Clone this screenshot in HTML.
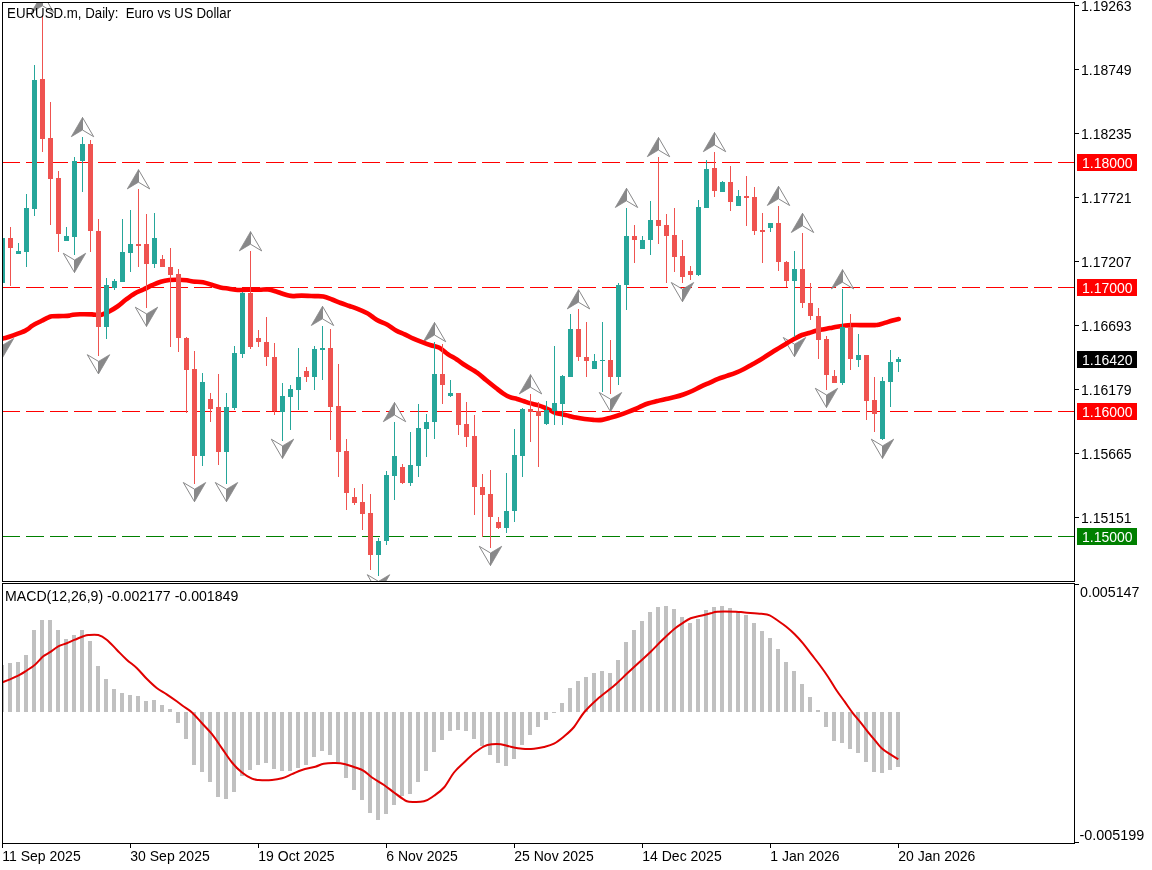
<!DOCTYPE html><html><head><meta charset="utf-8"><title>EURUSD.m Daily</title><style>html,body{margin:0;padding:0;background:#fff;}svg{display:block;}text{font-family:'Liberation Sans', Arial, sans-serif;font-size:14px;fill:#000;}</style></head><body><svg width="1152" height="870" viewBox="0 0 1152 870"><rect x="0" y="0" width="1152" height="870" fill="#fff"/><defs><clipPath id="cm"><rect x="3" y="3" width="1071" height="578"/></clipPath><clipPath id="cd"><rect x="3" y="584" width="1071" height="259"/></clipPath></defs><g clip-path="url(#cm)" shape-rendering="crispEdges"><rect x="2" y="162" width="18" height="1" fill="#ff0000"/><rect x="26" y="162" width="18" height="1" fill="#ff0000"/><rect x="50" y="162" width="18" height="1" fill="#ff0000"/><rect x="74" y="162" width="18" height="1" fill="#ff0000"/><rect x="98" y="162" width="18" height="1" fill="#ff0000"/><rect x="122" y="162" width="18" height="1" fill="#ff0000"/><rect x="146" y="162" width="18" height="1" fill="#ff0000"/><rect x="170" y="162" width="18" height="1" fill="#ff0000"/><rect x="194" y="162" width="18" height="1" fill="#ff0000"/><rect x="218" y="162" width="18" height="1" fill="#ff0000"/><rect x="242" y="162" width="18" height="1" fill="#ff0000"/><rect x="266" y="162" width="18" height="1" fill="#ff0000"/><rect x="290" y="162" width="18" height="1" fill="#ff0000"/><rect x="314" y="162" width="18" height="1" fill="#ff0000"/><rect x="338" y="162" width="18" height="1" fill="#ff0000"/><rect x="362" y="162" width="18" height="1" fill="#ff0000"/><rect x="386" y="162" width="18" height="1" fill="#ff0000"/><rect x="410" y="162" width="18" height="1" fill="#ff0000"/><rect x="434" y="162" width="18" height="1" fill="#ff0000"/><rect x="458" y="162" width="18" height="1" fill="#ff0000"/><rect x="482" y="162" width="18" height="1" fill="#ff0000"/><rect x="506" y="162" width="18" height="1" fill="#ff0000"/><rect x="530" y="162" width="18" height="1" fill="#ff0000"/><rect x="554" y="162" width="18" height="1" fill="#ff0000"/><rect x="578" y="162" width="18" height="1" fill="#ff0000"/><rect x="602" y="162" width="18" height="1" fill="#ff0000"/><rect x="626" y="162" width="18" height="1" fill="#ff0000"/><rect x="650" y="162" width="18" height="1" fill="#ff0000"/><rect x="674" y="162" width="18" height="1" fill="#ff0000"/><rect x="698" y="162" width="18" height="1" fill="#ff0000"/><rect x="722" y="162" width="18" height="1" fill="#ff0000"/><rect x="746" y="162" width="18" height="1" fill="#ff0000"/><rect x="770" y="162" width="18" height="1" fill="#ff0000"/><rect x="794" y="162" width="18" height="1" fill="#ff0000"/><rect x="818" y="162" width="18" height="1" fill="#ff0000"/><rect x="842" y="162" width="18" height="1" fill="#ff0000"/><rect x="866" y="162" width="18" height="1" fill="#ff0000"/><rect x="890" y="162" width="18" height="1" fill="#ff0000"/><rect x="914" y="162" width="18" height="1" fill="#ff0000"/><rect x="938" y="162" width="18" height="1" fill="#ff0000"/><rect x="962" y="162" width="18" height="1" fill="#ff0000"/><rect x="986" y="162" width="18" height="1" fill="#ff0000"/><rect x="1010" y="162" width="18" height="1" fill="#ff0000"/><rect x="1034" y="162" width="18" height="1" fill="#ff0000"/><rect x="1058" y="162" width="16" height="1" fill="#ff0000"/><rect x="2" y="287" width="18" height="1" fill="#ff0000"/><rect x="26" y="287" width="18" height="1" fill="#ff0000"/><rect x="50" y="287" width="18" height="1" fill="#ff0000"/><rect x="74" y="287" width="18" height="1" fill="#ff0000"/><rect x="98" y="287" width="18" height="1" fill="#ff0000"/><rect x="122" y="287" width="18" height="1" fill="#ff0000"/><rect x="146" y="287" width="18" height="1" fill="#ff0000"/><rect x="170" y="287" width="18" height="1" fill="#ff0000"/><rect x="194" y="287" width="18" height="1" fill="#ff0000"/><rect x="218" y="287" width="18" height="1" fill="#ff0000"/><rect x="242" y="287" width="18" height="1" fill="#ff0000"/><rect x="266" y="287" width="18" height="1" fill="#ff0000"/><rect x="290" y="287" width="18" height="1" fill="#ff0000"/><rect x="314" y="287" width="18" height="1" fill="#ff0000"/><rect x="338" y="287" width="18" height="1" fill="#ff0000"/><rect x="362" y="287" width="18" height="1" fill="#ff0000"/><rect x="386" y="287" width="18" height="1" fill="#ff0000"/><rect x="410" y="287" width="18" height="1" fill="#ff0000"/><rect x="434" y="287" width="18" height="1" fill="#ff0000"/><rect x="458" y="287" width="18" height="1" fill="#ff0000"/><rect x="482" y="287" width="18" height="1" fill="#ff0000"/><rect x="506" y="287" width="18" height="1" fill="#ff0000"/><rect x="530" y="287" width="18" height="1" fill="#ff0000"/><rect x="554" y="287" width="18" height="1" fill="#ff0000"/><rect x="578" y="287" width="18" height="1" fill="#ff0000"/><rect x="602" y="287" width="18" height="1" fill="#ff0000"/><rect x="626" y="287" width="18" height="1" fill="#ff0000"/><rect x="650" y="287" width="18" height="1" fill="#ff0000"/><rect x="674" y="287" width="18" height="1" fill="#ff0000"/><rect x="698" y="287" width="18" height="1" fill="#ff0000"/><rect x="722" y="287" width="18" height="1" fill="#ff0000"/><rect x="746" y="287" width="18" height="1" fill="#ff0000"/><rect x="770" y="287" width="18" height="1" fill="#ff0000"/><rect x="794" y="287" width="18" height="1" fill="#ff0000"/><rect x="818" y="287" width="18" height="1" fill="#ff0000"/><rect x="842" y="287" width="18" height="1" fill="#ff0000"/><rect x="866" y="287" width="18" height="1" fill="#ff0000"/><rect x="890" y="287" width="18" height="1" fill="#ff0000"/><rect x="914" y="287" width="18" height="1" fill="#ff0000"/><rect x="938" y="287" width="18" height="1" fill="#ff0000"/><rect x="962" y="287" width="18" height="1" fill="#ff0000"/><rect x="986" y="287" width="18" height="1" fill="#ff0000"/><rect x="1010" y="287" width="18" height="1" fill="#ff0000"/><rect x="1034" y="287" width="18" height="1" fill="#ff0000"/><rect x="1058" y="287" width="16" height="1" fill="#ff0000"/><rect x="2" y="411" width="18" height="1" fill="#ff0000"/><rect x="26" y="411" width="18" height="1" fill="#ff0000"/><rect x="50" y="411" width="18" height="1" fill="#ff0000"/><rect x="74" y="411" width="18" height="1" fill="#ff0000"/><rect x="98" y="411" width="18" height="1" fill="#ff0000"/><rect x="122" y="411" width="18" height="1" fill="#ff0000"/><rect x="146" y="411" width="18" height="1" fill="#ff0000"/><rect x="170" y="411" width="18" height="1" fill="#ff0000"/><rect x="194" y="411" width="18" height="1" fill="#ff0000"/><rect x="218" y="411" width="18" height="1" fill="#ff0000"/><rect x="242" y="411" width="18" height="1" fill="#ff0000"/><rect x="266" y="411" width="18" height="1" fill="#ff0000"/><rect x="290" y="411" width="18" height="1" fill="#ff0000"/><rect x="314" y="411" width="18" height="1" fill="#ff0000"/><rect x="338" y="411" width="18" height="1" fill="#ff0000"/><rect x="362" y="411" width="18" height="1" fill="#ff0000"/><rect x="386" y="411" width="18" height="1" fill="#ff0000"/><rect x="410" y="411" width="18" height="1" fill="#ff0000"/><rect x="434" y="411" width="18" height="1" fill="#ff0000"/><rect x="458" y="411" width="18" height="1" fill="#ff0000"/><rect x="482" y="411" width="18" height="1" fill="#ff0000"/><rect x="506" y="411" width="18" height="1" fill="#ff0000"/><rect x="530" y="411" width="18" height="1" fill="#ff0000"/><rect x="554" y="411" width="18" height="1" fill="#ff0000"/><rect x="578" y="411" width="18" height="1" fill="#ff0000"/><rect x="602" y="411" width="18" height="1" fill="#ff0000"/><rect x="626" y="411" width="18" height="1" fill="#ff0000"/><rect x="650" y="411" width="18" height="1" fill="#ff0000"/><rect x="674" y="411" width="18" height="1" fill="#ff0000"/><rect x="698" y="411" width="18" height="1" fill="#ff0000"/><rect x="722" y="411" width="18" height="1" fill="#ff0000"/><rect x="746" y="411" width="18" height="1" fill="#ff0000"/><rect x="770" y="411" width="18" height="1" fill="#ff0000"/><rect x="794" y="411" width="18" height="1" fill="#ff0000"/><rect x="818" y="411" width="18" height="1" fill="#ff0000"/><rect x="842" y="411" width="18" height="1" fill="#ff0000"/><rect x="866" y="411" width="18" height="1" fill="#ff0000"/><rect x="890" y="411" width="18" height="1" fill="#ff0000"/><rect x="914" y="411" width="18" height="1" fill="#ff0000"/><rect x="938" y="411" width="18" height="1" fill="#ff0000"/><rect x="962" y="411" width="18" height="1" fill="#ff0000"/><rect x="986" y="411" width="18" height="1" fill="#ff0000"/><rect x="1010" y="411" width="18" height="1" fill="#ff0000"/><rect x="1034" y="411" width="18" height="1" fill="#ff0000"/><rect x="1058" y="411" width="16" height="1" fill="#ff0000"/><rect x="2" y="536" width="18" height="1" fill="#008000"/><rect x="26" y="536" width="18" height="1" fill="#008000"/><rect x="50" y="536" width="18" height="1" fill="#008000"/><rect x="74" y="536" width="18" height="1" fill="#008000"/><rect x="98" y="536" width="18" height="1" fill="#008000"/><rect x="122" y="536" width="18" height="1" fill="#008000"/><rect x="146" y="536" width="18" height="1" fill="#008000"/><rect x="170" y="536" width="18" height="1" fill="#008000"/><rect x="194" y="536" width="18" height="1" fill="#008000"/><rect x="218" y="536" width="18" height="1" fill="#008000"/><rect x="242" y="536" width="18" height="1" fill="#008000"/><rect x="266" y="536" width="18" height="1" fill="#008000"/><rect x="290" y="536" width="18" height="1" fill="#008000"/><rect x="314" y="536" width="18" height="1" fill="#008000"/><rect x="338" y="536" width="18" height="1" fill="#008000"/><rect x="362" y="536" width="18" height="1" fill="#008000"/><rect x="386" y="536" width="18" height="1" fill="#008000"/><rect x="410" y="536" width="18" height="1" fill="#008000"/><rect x="434" y="536" width="18" height="1" fill="#008000"/><rect x="458" y="536" width="18" height="1" fill="#008000"/><rect x="482" y="536" width="18" height="1" fill="#008000"/><rect x="506" y="536" width="18" height="1" fill="#008000"/><rect x="530" y="536" width="18" height="1" fill="#008000"/><rect x="554" y="536" width="18" height="1" fill="#008000"/><rect x="578" y="536" width="18" height="1" fill="#008000"/><rect x="602" y="536" width="18" height="1" fill="#008000"/><rect x="626" y="536" width="18" height="1" fill="#008000"/><rect x="650" y="536" width="18" height="1" fill="#008000"/><rect x="674" y="536" width="18" height="1" fill="#008000"/><rect x="698" y="536" width="18" height="1" fill="#008000"/><rect x="722" y="536" width="18" height="1" fill="#008000"/><rect x="746" y="536" width="18" height="1" fill="#008000"/><rect x="770" y="536" width="18" height="1" fill="#008000"/><rect x="794" y="536" width="18" height="1" fill="#008000"/><rect x="818" y="536" width="18" height="1" fill="#008000"/><rect x="842" y="536" width="18" height="1" fill="#008000"/><rect x="866" y="536" width="18" height="1" fill="#008000"/><rect x="890" y="536" width="18" height="1" fill="#008000"/><rect x="914" y="536" width="18" height="1" fill="#008000"/><rect x="938" y="536" width="18" height="1" fill="#008000"/><rect x="962" y="536" width="18" height="1" fill="#008000"/><rect x="986" y="536" width="18" height="1" fill="#008000"/><rect x="1010" y="536" width="18" height="1" fill="#008000"/><rect x="1034" y="536" width="18" height="1" fill="#008000"/><rect x="1058" y="536" width="16" height="1" fill="#008000"/></g><g clip-path="url(#cm)"><polygon points="42.5,-6.7 31.3,12.5 42.5,5.8" fill="#888889" stroke="#888889" stroke-width="0.8" stroke-linejoin="round"/><polygon points="42.5,-6.7 42.5,5.8 53.7,12.5" fill="#fff" stroke="#888889" stroke-width="1.0" stroke-linejoin="round"/><polygon points="82.5,117.5 71.3,136.7 82.5,130.0" fill="#888889" stroke="#888889" stroke-width="0.8" stroke-linejoin="round"/><polygon points="82.5,117.5 82.5,130.0 93.7,136.7" fill="#fff" stroke="#888889" stroke-width="1.0" stroke-linejoin="round"/><polygon points="138.5,169.7 127.3,188.89999999999998 138.5,182.2" fill="#888889" stroke="#888889" stroke-width="0.8" stroke-linejoin="round"/><polygon points="138.5,169.7 138.5,182.2 149.7,188.89999999999998" fill="#fff" stroke="#888889" stroke-width="1.0" stroke-linejoin="round"/><polygon points="250.5,231.7 239.3,250.89999999999998 250.5,244.2" fill="#888889" stroke="#888889" stroke-width="0.8" stroke-linejoin="round"/><polygon points="250.5,231.7 250.5,244.2 261.7,250.89999999999998" fill="#fff" stroke="#888889" stroke-width="1.0" stroke-linejoin="round"/><polygon points="322.5,306.3 311.3,325.5 322.5,318.8" fill="#888889" stroke="#888889" stroke-width="0.8" stroke-linejoin="round"/><polygon points="322.5,306.3 322.5,318.8 333.7,325.5" fill="#fff" stroke="#888889" stroke-width="1.0" stroke-linejoin="round"/><polygon points="394.5,402.5 383.3,421.7 394.5,415.0" fill="#888889" stroke="#888889" stroke-width="0.8" stroke-linejoin="round"/><polygon points="394.5,402.5 394.5,415.0 405.7,421.7" fill="#fff" stroke="#888889" stroke-width="1.0" stroke-linejoin="round"/><polygon points="434.5,322.5 423.3,341.7 434.5,335.0" fill="#888889" stroke="#888889" stroke-width="0.8" stroke-linejoin="round"/><polygon points="434.5,322.5 434.5,335.0 445.7,341.7" fill="#fff" stroke="#888889" stroke-width="1.0" stroke-linejoin="round"/><polygon points="530.5,374.7 519.3,393.9 530.5,387.2" fill="#888889" stroke="#888889" stroke-width="0.8" stroke-linejoin="round"/><polygon points="530.5,374.7 530.5,387.2 541.7,393.9" fill="#fff" stroke="#888889" stroke-width="1.0" stroke-linejoin="round"/><polygon points="578.5,289.7 567.3,308.9 578.5,302.2" fill="#888889" stroke="#888889" stroke-width="0.8" stroke-linejoin="round"/><polygon points="578.5,289.7 578.5,302.2 589.7,308.9" fill="#fff" stroke="#888889" stroke-width="1.0" stroke-linejoin="round"/><polygon points="626.5,188.3 615.3,207.5 626.5,200.8" fill="#888889" stroke="#888889" stroke-width="0.8" stroke-linejoin="round"/><polygon points="626.5,188.3 626.5,200.8 637.7,207.5" fill="#fff" stroke="#888889" stroke-width="1.0" stroke-linejoin="round"/><polygon points="658.5,137.5 647.3,156.7 658.5,150.0" fill="#888889" stroke="#888889" stroke-width="0.8" stroke-linejoin="round"/><polygon points="658.5,137.5 658.5,150.0 669.7,156.7" fill="#fff" stroke="#888889" stroke-width="1.0" stroke-linejoin="round"/><polygon points="714.5,132.5 703.3,151.7 714.5,145.0" fill="#888889" stroke="#888889" stroke-width="0.8" stroke-linejoin="round"/><polygon points="714.5,132.5 714.5,145.0 725.7,151.7" fill="#fff" stroke="#888889" stroke-width="1.0" stroke-linejoin="round"/><polygon points="778.5,186.3 767.3,205.5 778.5,198.8" fill="#888889" stroke="#888889" stroke-width="0.8" stroke-linejoin="round"/><polygon points="778.5,186.3 778.5,198.8 789.7,205.5" fill="#fff" stroke="#888889" stroke-width="1.0" stroke-linejoin="round"/><polygon points="802.5,213.3 791.3,232.5 802.5,225.8" fill="#888889" stroke="#888889" stroke-width="0.8" stroke-linejoin="round"/><polygon points="802.5,213.3 802.5,225.8 813.7,232.5" fill="#fff" stroke="#888889" stroke-width="1.0" stroke-linejoin="round"/><polygon points="842.5,269.7 831.3,288.9 842.5,282.2" fill="#888889" stroke="#888889" stroke-width="0.8" stroke-linejoin="round"/><polygon points="842.5,269.7 842.5,282.2 853.7,288.9" fill="#fff" stroke="#888889" stroke-width="1.0" stroke-linejoin="round"/><polygon points="2.5,357.7 13.7,338.5 2.5,345.2" fill="#888889" stroke="#888889" stroke-width="0.8" stroke-linejoin="round"/><polygon points="2.5,357.7 2.5,345.2 -8.7,338.5" fill="#fff" stroke="#888889" stroke-width="1.0" stroke-linejoin="round"/><polygon points="74.5,272.5 85.7,253.3 74.5,260.0" fill="#888889" stroke="#888889" stroke-width="0.8" stroke-linejoin="round"/><polygon points="74.5,272.5 74.5,260.0 63.3,253.3" fill="#fff" stroke="#888889" stroke-width="1.0" stroke-linejoin="round"/><polygon points="98.5,373.9 109.7,354.7 98.5,361.4" fill="#888889" stroke="#888889" stroke-width="0.8" stroke-linejoin="round"/><polygon points="98.5,373.9 98.5,361.4 87.3,354.7" fill="#fff" stroke="#888889" stroke-width="1.0" stroke-linejoin="round"/><polygon points="146.5,326.4 157.7,307.2 146.5,313.9" fill="#888889" stroke="#888889" stroke-width="0.8" stroke-linejoin="round"/><polygon points="146.5,326.4 146.5,313.9 135.3,307.2" fill="#fff" stroke="#888889" stroke-width="1.0" stroke-linejoin="round"/><polygon points="194.5,501.7 205.7,482.5 194.5,489.2" fill="#888889" stroke="#888889" stroke-width="0.8" stroke-linejoin="round"/><polygon points="194.5,501.7 194.5,489.2 183.3,482.5" fill="#fff" stroke="#888889" stroke-width="1.0" stroke-linejoin="round"/><polygon points="226.5,501.7 237.7,482.5 226.5,489.2" fill="#888889" stroke="#888889" stroke-width="0.8" stroke-linejoin="round"/><polygon points="226.5,501.7 226.5,489.2 215.3,482.5" fill="#fff" stroke="#888889" stroke-width="1.0" stroke-linejoin="round"/><polygon points="282.5,458.4 293.7,439.2 282.5,445.9" fill="#888889" stroke="#888889" stroke-width="0.8" stroke-linejoin="round"/><polygon points="282.5,458.4 282.5,445.9 271.3,439.2" fill="#fff" stroke="#888889" stroke-width="1.0" stroke-linejoin="round"/><polygon points="378.5,593.9000000000001 389.7,574.7 378.5,581.4000000000001" fill="#888889" stroke="#888889" stroke-width="0.8" stroke-linejoin="round"/><polygon points="378.5,593.9000000000001 378.5,581.4000000000001 367.3,574.7" fill="#fff" stroke="#888889" stroke-width="1.0" stroke-linejoin="round"/><polygon points="490.5,565.5 501.7,546.3 490.5,553.0" fill="#888889" stroke="#888889" stroke-width="0.8" stroke-linejoin="round"/><polygon points="490.5,565.5 490.5,553.0 479.3,546.3" fill="#fff" stroke="#888889" stroke-width="1.0" stroke-linejoin="round"/><polygon points="610.5,411.7 621.7,392.5 610.5,399.2" fill="#888889" stroke="#888889" stroke-width="0.8" stroke-linejoin="round"/><polygon points="610.5,411.7 610.5,399.2 599.3,392.5" fill="#fff" stroke="#888889" stroke-width="1.0" stroke-linejoin="round"/><polygon points="682.5,301.7 693.7,282.5 682.5,289.2" fill="#888889" stroke="#888889" stroke-width="0.8" stroke-linejoin="round"/><polygon points="682.5,301.7 682.5,289.2 671.3,282.5" fill="#fff" stroke="#888889" stroke-width="1.0" stroke-linejoin="round"/><polygon points="794.5,356.7 805.7,337.5 794.5,344.2" fill="#888889" stroke="#888889" stroke-width="0.8" stroke-linejoin="round"/><polygon points="794.5,356.7 794.5,344.2 783.3,337.5" fill="#fff" stroke="#888889" stroke-width="1.0" stroke-linejoin="round"/><polygon points="826.5,407.5 837.7,388.3 826.5,395.0" fill="#888889" stroke="#888889" stroke-width="0.8" stroke-linejoin="round"/><polygon points="826.5,407.5 826.5,395.0 815.3,388.3" fill="#fff" stroke="#888889" stroke-width="1.0" stroke-linejoin="round"/><polygon points="882.5,458.4 893.7,439.2 882.5,445.9" fill="#888889" stroke="#888889" stroke-width="0.8" stroke-linejoin="round"/><polygon points="882.5,458.4 882.5,445.9 871.3,439.2" fill="#fff" stroke="#888889" stroke-width="1.0" stroke-linejoin="round"/><path d="M2.80,338.50 C3.48,338.33 5.05,338.07 6.90,337.50 C8.75,336.93 11.58,335.92 13.90,335.10 C16.22,334.28 18.95,333.30 20.80,332.60 C22.65,331.90 23.83,331.47 25.00,330.90 C26.17,330.33 26.76,329.95 27.80,329.20 C28.84,328.45 30.10,327.22 31.25,326.40 C32.40,325.58 32.96,325.23 34.70,324.30 C36.44,323.37 39.38,321.95 41.70,320.80 C44.02,319.65 46.87,318.15 48.60,317.40 C50.33,316.65 49.78,316.53 52.10,316.30 C54.42,316.07 59.62,316.12 62.50,316.00 C65.38,315.88 67.67,315.82 69.40,315.60 C71.13,315.38 71.13,314.92 72.90,314.70 C74.67,314.48 76.82,314.35 80.00,314.30 C83.18,314.25 88.67,314.27 92.00,314.40 C95.33,314.53 97.22,315.55 100.00,315.10 C102.78,314.65 105.80,313.13 108.70,311.70 C111.60,310.27 114.52,308.53 117.40,306.50 C120.28,304.47 123.12,301.68 126.00,299.50 C128.88,297.32 131.80,295.07 134.70,293.40 C137.60,291.73 140.50,290.87 143.40,289.50 C146.30,288.13 149.20,286.50 152.10,285.20 C155.00,283.90 157.92,282.57 160.80,281.70 C163.68,280.83 166.52,280.33 169.40,280.00 C172.28,279.67 175.20,279.65 178.10,279.70 C181.00,279.75 184.32,280.00 186.80,280.30 C189.28,280.60 190.30,281.18 193.00,281.50 C195.70,281.82 199.88,281.65 203.00,282.20 C206.12,282.75 208.80,283.93 211.70,284.80 C214.60,285.67 217.52,286.75 220.40,287.40 C223.28,288.05 226.12,288.27 229.00,288.70 C231.88,289.13 234.80,289.82 237.70,290.00 C240.60,290.18 242.78,289.83 246.40,289.80 C250.02,289.77 255.78,289.85 259.40,289.80 C263.02,289.75 265.20,289.18 268.10,289.50 C271.00,289.82 274.48,291.03 276.80,291.70 C279.12,292.37 280.02,292.85 282.00,293.50 C283.98,294.15 286.87,295.17 288.70,295.60 C290.53,296.03 290.83,296.10 293.00,296.10 C295.17,296.10 298.08,295.60 301.70,295.60 C305.32,295.60 311.08,295.95 314.70,296.10 C318.32,296.25 320.50,295.93 323.40,296.50 C326.30,297.07 329.20,298.42 332.10,299.50 C335.00,300.58 337.92,301.92 340.80,303.00 C343.68,304.08 346.52,304.98 349.40,306.00 C352.28,307.02 355.20,307.93 358.10,309.10 C361.00,310.27 364.48,311.77 366.80,313.00 C369.12,314.23 370.02,315.18 372.00,316.50 C373.98,317.82 376.13,319.52 378.70,320.90 C381.27,322.28 384.52,323.22 387.40,324.80 C390.28,326.38 393.12,328.82 396.00,330.40 C398.88,331.98 401.80,332.93 404.70,334.30 C407.60,335.67 410.50,337.30 413.40,338.60 C416.30,339.90 419.20,341.00 422.10,342.10 C425.00,343.20 427.92,344.25 430.80,345.20 C433.68,346.15 436.52,346.28 439.40,347.80 C442.28,349.32 445.20,352.35 448.10,354.30 C451.00,356.25 453.90,357.63 456.80,359.50 C459.70,361.37 462.07,363.28 465.50,365.50 C468.93,367.72 473.98,370.38 477.40,372.80 C480.82,375.22 482.90,377.47 486.00,380.00 C489.10,382.53 493.17,385.78 496.00,388.00 C498.83,390.22 500.67,391.77 503.00,393.30 C505.33,394.83 507.67,396.25 510.00,397.20 C512.33,398.15 514.67,398.32 517.00,399.00 C519.33,399.68 521.72,400.57 524.00,401.30 C526.28,402.03 528.42,402.77 530.70,403.40 C532.98,404.03 535.38,404.40 537.70,405.10 C540.02,405.80 542.52,406.73 544.60,407.60 C546.68,408.47 548.47,409.43 550.20,410.30 C551.93,411.17 553.03,412.15 555.00,412.80 C556.97,413.45 559.67,413.68 562.00,414.20 C564.33,414.72 566.67,415.33 569.00,415.90 C571.33,416.47 573.38,417.08 576.00,417.60 C578.62,418.12 581.80,418.62 584.70,419.00 C587.60,419.38 590.50,419.75 593.40,419.90 C596.30,420.05 599.20,420.28 602.10,419.90 C605.00,419.52 607.92,418.42 610.80,417.60 C613.68,416.78 616.52,415.95 619.40,415.00 C622.28,414.05 625.20,413.00 628.10,411.90 C631.00,410.80 634.48,409.42 636.80,408.40 C639.12,407.38 640.02,406.67 642.00,405.80 C643.98,404.93 646.13,404.00 648.70,403.20 C651.27,402.40 654.52,401.72 657.40,401.00 C660.28,400.28 663.12,399.55 666.00,398.90 C668.88,398.25 671.80,397.83 674.70,397.10 C677.60,396.37 680.50,395.52 683.40,394.50 C686.30,393.48 689.20,392.30 692.10,391.00 C695.00,389.70 697.92,388.07 700.80,386.70 C703.68,385.33 706.52,384.10 709.40,382.80 C712.28,381.50 715.20,380.05 718.10,378.90 C721.00,377.75 723.90,376.92 726.80,375.90 C729.70,374.88 732.63,373.95 735.50,372.80 C738.37,371.65 741.25,370.38 744.00,369.00 C746.75,367.62 749.33,366.00 752.00,364.50 C754.67,363.00 756.33,362.25 760.00,360.00 C763.67,357.75 769.33,353.90 774.00,351.00 C778.67,348.10 784.50,344.68 788.00,342.60 C791.50,340.52 792.67,339.77 795.00,338.50 C797.33,337.23 799.67,335.92 802.00,335.00 C804.33,334.08 806.67,333.70 809.00,333.00 C811.33,332.30 813.75,331.40 816.00,330.80 C818.25,330.20 820.17,329.85 822.50,329.40 C824.83,328.95 827.60,328.55 830.00,328.10 C832.40,327.65 834.58,327.10 836.90,326.70 C839.22,326.30 841.58,325.97 843.90,325.70 C846.22,325.43 847.33,325.20 850.80,325.10 C854.27,325.00 860.65,325.10 864.70,325.10 C868.75,325.10 872.78,325.17 875.10,325.10 C877.42,325.03 876.85,325.12 878.60,324.70 C880.35,324.28 883.28,323.30 885.60,322.60 C887.92,321.90 890.31,321.08 892.50,320.50 C894.69,319.92 897.71,319.33 898.75,319.10" fill="none" stroke="#ff0000" stroke-width="4.6" stroke-linejoin="round" stroke-linecap="round"/></g><g clip-path="url(#cm)" shape-rendering="crispEdges"><rect x="2" y="236" width="1" height="100" fill="#26a69a"/><rect x="0" y="238" width="5" height="45" fill="#26a69a"/><rect x="10" y="227" width="1" height="59" fill="#ef5350"/><rect x="8" y="238" width="5" height="10" fill="#ef5350"/><rect x="18" y="243" width="1" height="11" fill="#26a69a"/><rect x="16" y="251" width="5" height="3" fill="#26a69a"/><rect x="26" y="194" width="1" height="73" fill="#26a69a"/><rect x="24" y="208" width="5" height="44" fill="#26a69a"/><rect x="34" y="65" width="1" height="151" fill="#26a69a"/><rect x="32" y="80" width="5" height="129" fill="#26a69a"/><rect x="42" y="15" width="1" height="137" fill="#ef5350"/><rect x="40" y="79" width="5" height="60" fill="#ef5350"/><rect x="50" y="102" width="1" height="123" fill="#ef5350"/><rect x="48" y="138" width="5" height="41" fill="#ef5350"/><rect x="58" y="171" width="1" height="81" fill="#ef5350"/><rect x="56" y="178" width="5" height="56" fill="#ef5350"/><rect x="66" y="227" width="1" height="14" fill="#26a69a"/><rect x="64" y="236" width="5" height="5" fill="#26a69a"/><rect x="74" y="157" width="1" height="98" fill="#26a69a"/><rect x="72" y="161" width="5" height="76" fill="#26a69a"/><rect x="82" y="137" width="1" height="55" fill="#26a69a"/><rect x="80" y="144" width="5" height="17" fill="#26a69a"/><rect x="90" y="140" width="1" height="112" fill="#ef5350"/><rect x="88" y="144" width="5" height="87" fill="#ef5350"/><rect x="98" y="219" width="1" height="137" fill="#ef5350"/><rect x="96" y="231" width="5" height="96" fill="#ef5350"/><rect x="106" y="278" width="1" height="61" fill="#26a69a"/><rect x="104" y="285" width="5" height="42" fill="#26a69a"/><rect x="114" y="279" width="1" height="11" fill="#26a69a"/><rect x="112" y="281" width="5" height="7" fill="#26a69a"/><rect x="122" y="219" width="1" height="63" fill="#26a69a"/><rect x="120" y="252" width="5" height="30" fill="#26a69a"/><rect x="130" y="210" width="1" height="62" fill="#26a69a"/><rect x="128" y="244" width="5" height="9" fill="#26a69a"/><rect x="138" y="189" width="1" height="78" fill="#ef5350"/><rect x="136" y="244" width="5" height="2" fill="#ef5350"/><rect x="146" y="214" width="1" height="94" fill="#ef5350"/><rect x="144" y="244" width="5" height="20" fill="#ef5350"/><rect x="154" y="213" width="1" height="55" fill="#26a69a"/><rect x="152" y="238" width="5" height="26" fill="#26a69a"/><rect x="162" y="255" width="1" height="12" fill="#ef5350"/><rect x="160" y="259" width="5" height="8" fill="#ef5350"/><rect x="170" y="248" width="1" height="99" fill="#ef5350"/><rect x="168" y="267" width="5" height="8" fill="#ef5350"/><rect x="178" y="269" width="1" height="83" fill="#ef5350"/><rect x="176" y="274" width="5" height="64" fill="#ef5350"/><rect x="186" y="337" width="1" height="76" fill="#ef5350"/><rect x="184" y="338" width="5" height="32" fill="#ef5350"/><rect x="194" y="351" width="1" height="133" fill="#ef5350"/><rect x="192" y="369" width="5" height="87" fill="#ef5350"/><rect x="202" y="373" width="1" height="93" fill="#26a69a"/><rect x="200" y="382" width="5" height="74" fill="#26a69a"/><rect x="210" y="393" width="1" height="29" fill="#ef5350"/><rect x="208" y="399" width="5" height="10" fill="#ef5350"/><rect x="218" y="374" width="1" height="91" fill="#ef5350"/><rect x="216" y="407" width="5" height="45" fill="#ef5350"/><rect x="226" y="393" width="1" height="91" fill="#26a69a"/><rect x="224" y="407" width="5" height="45" fill="#26a69a"/><rect x="234" y="346" width="1" height="64" fill="#26a69a"/><rect x="232" y="353" width="5" height="55" fill="#26a69a"/><rect x="242" y="292" width="1" height="66" fill="#26a69a"/><rect x="240" y="293" width="5" height="61" fill="#26a69a"/><rect x="250" y="251" width="1" height="98" fill="#ef5350"/><rect x="248" y="293" width="5" height="54" fill="#ef5350"/><rect x="258" y="330" width="1" height="17" fill="#ef5350"/><rect x="256" y="338" width="5" height="4" fill="#ef5350"/><rect x="266" y="317" width="1" height="49" fill="#ef5350"/><rect x="264" y="342" width="5" height="15" fill="#ef5350"/><rect x="274" y="343" width="1" height="72" fill="#ef5350"/><rect x="272" y="357" width="5" height="54" fill="#ef5350"/><rect x="282" y="383" width="1" height="58" fill="#26a69a"/><rect x="280" y="396" width="5" height="16" fill="#26a69a"/><rect x="290" y="385" width="1" height="45" fill="#26a69a"/><rect x="288" y="389" width="5" height="8" fill="#26a69a"/><rect x="298" y="348" width="1" height="62" fill="#26a69a"/><rect x="296" y="377" width="5" height="13" fill="#26a69a"/><rect x="306" y="367" width="1" height="15" fill="#ef5350"/><rect x="304" y="371" width="5" height="6" fill="#ef5350"/><rect x="314" y="346" width="1" height="44" fill="#26a69a"/><rect x="312" y="349" width="5" height="28" fill="#26a69a"/><rect x="322" y="326" width="1" height="54" fill="#26a69a"/><rect x="320" y="348" width="5" height="2" fill="#26a69a"/><rect x="330" y="329" width="1" height="111" fill="#ef5350"/><rect x="328" y="348" width="5" height="59" fill="#ef5350"/><rect x="338" y="364" width="1" height="113" fill="#ef5350"/><rect x="336" y="406" width="5" height="46" fill="#ef5350"/><rect x="346" y="439" width="1" height="71" fill="#ef5350"/><rect x="344" y="451" width="5" height="42" fill="#ef5350"/><rect x="354" y="488" width="1" height="17" fill="#ef5350"/><rect x="352" y="497" width="5" height="6" fill="#ef5350"/><rect x="362" y="484" width="1" height="46" fill="#ef5350"/><rect x="360" y="502" width="5" height="12" fill="#ef5350"/><rect x="370" y="494" width="1" height="76" fill="#ef5350"/><rect x="368" y="513" width="5" height="42" fill="#ef5350"/><rect x="378" y="538" width="1" height="38" fill="#26a69a"/><rect x="376" y="541" width="5" height="14" fill="#26a69a"/><rect x="386" y="471" width="1" height="74" fill="#26a69a"/><rect x="384" y="475" width="5" height="66" fill="#26a69a"/><rect x="394" y="422" width="1" height="78" fill="#26a69a"/><rect x="392" y="456" width="5" height="20" fill="#26a69a"/><rect x="402" y="464" width="1" height="20" fill="#ef5350"/><rect x="400" y="467" width="5" height="16" fill="#ef5350"/><rect x="410" y="432" width="1" height="54" fill="#26a69a"/><rect x="408" y="465" width="5" height="18" fill="#26a69a"/><rect x="418" y="404" width="1" height="73" fill="#26a69a"/><rect x="416" y="428" width="5" height="38" fill="#26a69a"/><rect x="426" y="414" width="1" height="43" fill="#26a69a"/><rect x="424" y="422" width="5" height="7" fill="#26a69a"/><rect x="434" y="342" width="1" height="97" fill="#26a69a"/><rect x="432" y="374" width="5" height="48" fill="#26a69a"/><rect x="442" y="344" width="1" height="60" fill="#ef5350"/><rect x="440" y="374" width="5" height="11" fill="#ef5350"/><rect x="450" y="380" width="1" height="17" fill="#26a69a"/><rect x="448" y="393" width="5" height="3" fill="#26a69a"/><rect x="458" y="393" width="1" height="42" fill="#ef5350"/><rect x="456" y="393" width="5" height="32" fill="#ef5350"/><rect x="466" y="402" width="1" height="45" fill="#ef5350"/><rect x="464" y="424" width="5" height="13" fill="#ef5350"/><rect x="474" y="415" width="1" height="100" fill="#ef5350"/><rect x="472" y="436" width="5" height="51" fill="#ef5350"/><rect x="482" y="474" width="1" height="63" fill="#ef5350"/><rect x="480" y="487" width="5" height="8" fill="#ef5350"/><rect x="490" y="470" width="1" height="78" fill="#ef5350"/><rect x="488" y="494" width="5" height="23" fill="#ef5350"/><rect x="498" y="517" width="1" height="12" fill="#ef5350"/><rect x="496" y="522" width="5" height="6" fill="#ef5350"/><rect x="506" y="473" width="1" height="60" fill="#26a69a"/><rect x="504" y="511" width="5" height="17" fill="#26a69a"/><rect x="514" y="429" width="1" height="93" fill="#26a69a"/><rect x="512" y="455" width="5" height="56" fill="#26a69a"/><rect x="522" y="408" width="1" height="69" fill="#26a69a"/><rect x="520" y="409" width="5" height="47" fill="#26a69a"/><rect x="530" y="394" width="1" height="48" fill="#ef5350"/><rect x="528" y="409" width="5" height="3" fill="#ef5350"/><rect x="538" y="402" width="1" height="65" fill="#ef5350"/><rect x="536" y="411" width="5" height="5" fill="#ef5350"/><rect x="546" y="401" width="1" height="24" fill="#26a69a"/><rect x="544" y="410" width="5" height="14" fill="#26a69a"/><rect x="554" y="346" width="1" height="79" fill="#26a69a"/><rect x="552" y="403" width="5" height="8" fill="#26a69a"/><rect x="562" y="375" width="1" height="50" fill="#26a69a"/><rect x="560" y="376" width="5" height="28" fill="#26a69a"/><rect x="570" y="314" width="1" height="63" fill="#26a69a"/><rect x="568" y="329" width="5" height="48" fill="#26a69a"/><rect x="578" y="309" width="1" height="52" fill="#ef5350"/><rect x="576" y="329" width="5" height="28" fill="#ef5350"/><rect x="586" y="322" width="1" height="55" fill="#ef5350"/><rect x="584" y="357" width="5" height="4" fill="#ef5350"/><rect x="594" y="354" width="1" height="15" fill="#26a69a"/><rect x="592" y="361" width="5" height="8" fill="#26a69a"/><rect x="602" y="322" width="1" height="70" fill="#26a69a"/><rect x="600" y="360" width="5" height="1" fill="#26a69a"/><rect x="610" y="340" width="1" height="54" fill="#ef5350"/><rect x="608" y="360" width="5" height="17" fill="#ef5350"/><rect x="618" y="283" width="1" height="102" fill="#26a69a"/><rect x="616" y="285" width="5" height="92" fill="#26a69a"/><rect x="626" y="208" width="1" height="102" fill="#26a69a"/><rect x="624" y="236" width="5" height="49" fill="#26a69a"/><rect x="634" y="225" width="1" height="38" fill="#ef5350"/><rect x="632" y="236" width="5" height="4" fill="#ef5350"/><rect x="642" y="236" width="1" height="13" fill="#26a69a"/><rect x="640" y="240" width="5" height="9" fill="#26a69a"/><rect x="650" y="201" width="1" height="54" fill="#26a69a"/><rect x="648" y="220" width="5" height="20" fill="#26a69a"/><rect x="658" y="157" width="1" height="87" fill="#ef5350"/><rect x="656" y="220" width="5" height="6" fill="#ef5350"/><rect x="666" y="214" width="1" height="69" fill="#ef5350"/><rect x="664" y="225" width="5" height="11" fill="#ef5350"/><rect x="674" y="208" width="1" height="64" fill="#ef5350"/><rect x="672" y="235" width="5" height="22" fill="#ef5350"/><rect x="682" y="240" width="1" height="43" fill="#ef5350"/><rect x="680" y="256" width="5" height="21" fill="#ef5350"/><rect x="690" y="266" width="1" height="14" fill="#ef5350"/><rect x="688" y="271" width="5" height="4" fill="#ef5350"/><rect x="698" y="200" width="1" height="76" fill="#26a69a"/><rect x="696" y="207" width="5" height="68" fill="#26a69a"/><rect x="706" y="160" width="1" height="48" fill="#26a69a"/><rect x="704" y="169" width="5" height="39" fill="#26a69a"/><rect x="714" y="152" width="1" height="45" fill="#ef5350"/><rect x="712" y="168" width="5" height="23" fill="#ef5350"/><rect x="722" y="181" width="1" height="11" fill="#26a69a"/><rect x="720" y="182" width="5" height="10" fill="#26a69a"/><rect x="730" y="166" width="1" height="45" fill="#ef5350"/><rect x="728" y="182" width="5" height="20" fill="#ef5350"/><rect x="738" y="190" width="1" height="16" fill="#26a69a"/><rect x="736" y="196" width="5" height="10" fill="#26a69a"/><rect x="746" y="176" width="1" height="50" fill="#ef5350"/><rect x="744" y="196" width="5" height="2" fill="#ef5350"/><rect x="754" y="187" width="1" height="48" fill="#ef5350"/><rect x="752" y="197" width="5" height="34" fill="#ef5350"/><rect x="762" y="213" width="1" height="50" fill="#ef5350"/><rect x="760" y="230" width="5" height="2" fill="#ef5350"/><rect x="770" y="223" width="1" height="9" fill="#26a69a"/><rect x="768" y="223" width="5" height="5" fill="#26a69a"/><rect x="778" y="206" width="1" height="65" fill="#ef5350"/><rect x="776" y="223" width="5" height="39" fill="#ef5350"/><rect x="786" y="261" width="1" height="26" fill="#ef5350"/><rect x="784" y="262" width="5" height="19" fill="#ef5350"/><rect x="794" y="251" width="1" height="86" fill="#26a69a"/><rect x="792" y="269" width="5" height="12" fill="#26a69a"/><rect x="802" y="233" width="1" height="75" fill="#ef5350"/><rect x="800" y="269" width="5" height="34" fill="#ef5350"/><rect x="810" y="283" width="1" height="37" fill="#ef5350"/><rect x="808" y="303" width="5" height="13" fill="#ef5350"/><rect x="818" y="308" width="1" height="51" fill="#ef5350"/><rect x="816" y="316" width="5" height="24" fill="#ef5350"/><rect x="826" y="336" width="1" height="54" fill="#ef5350"/><rect x="824" y="339" width="5" height="36" fill="#ef5350"/><rect x="834" y="370" width="1" height="13" fill="#ef5350"/><rect x="832" y="376" width="5" height="7" fill="#ef5350"/><rect x="842" y="289" width="1" height="96" fill="#26a69a"/><rect x="840" y="327" width="5" height="56" fill="#26a69a"/><rect x="850" y="314" width="1" height="56" fill="#ef5350"/><rect x="848" y="327" width="5" height="32" fill="#ef5350"/><rect x="858" y="334" width="1" height="33" fill="#26a69a"/><rect x="856" y="355" width="5" height="5" fill="#26a69a"/><rect x="866" y="355" width="1" height="65" fill="#ef5350"/><rect x="864" y="355" width="5" height="46" fill="#ef5350"/><rect x="874" y="377" width="1" height="55" fill="#ef5350"/><rect x="872" y="400" width="5" height="14" fill="#ef5350"/><rect x="882" y="377" width="1" height="63" fill="#26a69a"/><rect x="880" y="381" width="5" height="58" fill="#26a69a"/><rect x="890" y="350" width="1" height="57" fill="#26a69a"/><rect x="888" y="362" width="5" height="20" fill="#26a69a"/><rect x="898" y="357" width="1" height="15" fill="#26a69a"/><rect x="896" y="359" width="5" height="3" fill="#26a69a"/></g><text x="7.1" y="18" xml:space="preserve" textLength="224" lengthAdjust="spacingAndGlyphs">EURUSD.m, Daily:  Euro vs US Dollar</text><g shape-rendering="crispEdges" fill="#000"><rect x="2" y="2" width="1073" height="1"/><rect x="2" y="581" width="1073" height="1"/><rect x="2" y="2" width="1" height="580"/><rect x="1074" y="2" width="1" height="580"/><rect x="2" y="583" width="1073" height="1"/><rect x="2" y="843" width="1073" height="1"/><rect x="2" y="583" width="1" height="261"/><rect x="1074" y="583" width="1" height="261"/></g><g shape-rendering="crispEdges"><rect x="1075" y="5" width="4" height="1" fill="#000"/><rect x="1075" y="69" width="4" height="1" fill="#000"/><rect x="1075" y="133" width="4" height="1" fill="#000"/><rect x="1075" y="197" width="4" height="1" fill="#000"/><rect x="1075" y="261" width="4" height="1" fill="#000"/><rect x="1075" y="325" width="4" height="1" fill="#000"/><rect x="1075" y="389" width="4" height="1" fill="#000"/><rect x="1075" y="453" width="4" height="1" fill="#000"/><rect x="1075" y="517" width="4" height="1" fill="#000"/></g><text x="1081" y="10.5">1.19263</text><text x="1081" y="74.5">1.18749</text><text x="1081" y="138.5">1.18235</text><text x="1081" y="202.5">1.17721</text><text x="1081" y="266.5">1.17207</text><text x="1081" y="330.5">1.16693</text><text x="1081" y="394.5">1.16179</text><text x="1081" y="458.5">1.15665</text><text x="1081" y="522.5">1.15151</text><rect x="1077" y="154" width="60" height="17" fill="#ff0000" shape-rendering="crispEdges"/><text x="1082" y="167.5" style="fill:#fff">1.18000</text><rect x="1077" y="279" width="60" height="17" fill="#ff0000" shape-rendering="crispEdges"/><text x="1082" y="292.5" style="fill:#fff">1.17000</text><rect x="1077" y="351" width="60" height="17" fill="#000000" shape-rendering="crispEdges"/><text x="1082" y="364.5" style="fill:#fff">1.16420</text><rect x="1077" y="403" width="60" height="17" fill="#ff0000" shape-rendering="crispEdges"/><text x="1082" y="416.5" style="fill:#fff">1.16000</text><rect x="1077" y="528" width="60" height="17" fill="#008000" shape-rendering="crispEdges"/><text x="1082" y="541.5" style="fill:#fff">1.15000</text><g clip-path="url(#cd)" shape-rendering="crispEdges" fill="#c0c0c0"><rect x="0" y="665" width="4" height="47"/><rect x="8" y="663" width="4" height="49"/><rect x="16" y="662" width="4" height="50"/><rect x="24" y="655" width="4" height="57"/><rect x="32" y="630" width="4" height="82"/><rect x="40" y="620" width="4" height="92"/><rect x="48" y="620" width="4" height="92"/><rect x="56" y="630" width="4" height="82"/><rect x="64" y="639" width="4" height="73"/><rect x="72" y="635" width="4" height="77"/><rect x="80" y="630" width="4" height="82"/><rect x="88" y="641" width="4" height="71"/><rect x="96" y="666" width="4" height="46"/><rect x="104" y="679" width="4" height="33"/><rect x="112" y="689" width="4" height="23"/><rect x="120" y="693" width="4" height="19"/><rect x="128" y="695" width="4" height="17"/><rect x="136" y="696" width="4" height="16"/><rect x="144" y="701" width="4" height="11"/><rect x="152" y="700" width="4" height="12"/><rect x="160" y="705" width="4" height="7"/><rect x="168" y="709" width="4" height="3"/><rect x="176" y="712" width="4" height="11"/><rect x="184" y="712" width="4" height="27"/><rect x="192" y="712" width="4" height="53"/><rect x="200" y="712" width="4" height="60"/><rect x="208" y="712" width="4" height="70"/><rect x="216" y="712" width="4" height="85"/><rect x="224" y="712" width="4" height="87"/><rect x="232" y="712" width="4" height="80"/><rect x="240" y="712" width="4" height="64"/><rect x="248" y="712" width="4" height="58"/><rect x="256" y="712" width="4" height="53"/><rect x="264" y="712" width="4" height="51"/><rect x="272" y="712" width="4" height="57"/><rect x="280" y="712" width="4" height="59"/><rect x="288" y="712" width="4" height="59"/><rect x="296" y="712" width="4" height="56"/><rect x="304" y="712" width="4" height="53"/><rect x="312" y="712" width="4" height="45"/><rect x="320" y="712" width="4" height="39"/><rect x="328" y="712" width="4" height="43"/><rect x="336" y="712" width="4" height="50"/><rect x="344" y="712" width="4" height="66"/><rect x="352" y="712" width="4" height="78"/><rect x="360" y="712" width="4" height="88"/><rect x="368" y="712" width="4" height="101"/><rect x="376" y="712" width="4" height="108"/><rect x="384" y="712" width="4" height="102"/><rect x="392" y="712" width="4" height="93"/><rect x="400" y="712" width="4" height="84"/><rect x="408" y="712" width="4" height="82"/><rect x="416" y="712" width="4" height="70"/><rect x="424" y="712" width="4" height="59"/><rect x="432" y="712" width="4" height="40"/><rect x="440" y="712" width="4" height="28"/><rect x="448" y="712" width="4" height="19"/><rect x="456" y="712" width="4" height="18"/><rect x="464" y="712" width="4" height="19"/><rect x="472" y="712" width="4" height="27"/><rect x="480" y="712" width="4" height="34"/><rect x="488" y="712" width="4" height="43"/><rect x="496" y="712" width="4" height="51"/><rect x="504" y="712" width="4" height="54"/><rect x="512" y="712" width="4" height="47"/><rect x="520" y="712" width="4" height="33"/><rect x="528" y="712" width="4" height="23"/><rect x="536" y="712" width="4" height="15"/><rect x="544" y="712" width="4" height="8"/><rect x="552" y="712" width="4" height="1"/><rect x="560" y="703" width="4" height="9"/><rect x="568" y="688" width="4" height="24"/><rect x="576" y="681" width="4" height="31"/><rect x="584" y="677" width="4" height="35"/><rect x="592" y="673" width="4" height="39"/><rect x="600" y="671" width="4" height="41"/><rect x="608" y="673" width="4" height="39"/><rect x="616" y="660" width="4" height="52"/><rect x="624" y="642" width="4" height="70"/><rect x="632" y="630" width="4" height="82"/><rect x="640" y="621" width="4" height="91"/><rect x="648" y="612" width="4" height="100"/><rect x="656" y="607" width="4" height="105"/><rect x="664" y="606" width="4" height="106"/><rect x="672" y="609" width="4" height="103"/><rect x="680" y="617" width="4" height="95"/><rect x="688" y="623" width="4" height="89"/><rect x="696" y="619" width="4" height="93"/><rect x="704" y="610" width="4" height="102"/><rect x="712" y="607" width="4" height="105"/><rect x="720" y="606" width="4" height="106"/><rect x="728" y="608" width="4" height="104"/><rect x="736" y="612" width="4" height="100"/><rect x="744" y="615" width="4" height="97"/><rect x="752" y="623" width="4" height="89"/><rect x="760" y="631" width="4" height="81"/><rect x="768" y="638" width="4" height="74"/><rect x="776" y="649" width="4" height="63"/><rect x="784" y="662" width="4" height="50"/><rect x="792" y="671" width="4" height="41"/><rect x="800" y="684" width="4" height="28"/><rect x="808" y="697" width="4" height="15"/><rect x="816" y="710" width="4" height="2"/><rect x="824" y="712" width="4" height="15"/><rect x="832" y="712" width="4" height="29"/><rect x="840" y="712" width="4" height="31"/><rect x="848" y="712" width="4" height="37"/><rect x="856" y="712" width="4" height="41"/><rect x="864" y="712" width="4" height="50"/><rect x="872" y="712" width="4" height="60"/><rect x="880" y="712" width="4" height="61"/><rect x="888" y="712" width="4" height="58"/><rect x="896" y="712" width="4" height="55"/></g><g clip-path="url(#cd)"><path d="M2.50,682.20 C3.75,681.72 7.08,680.55 10.00,679.30 C12.92,678.05 17.22,676.17 20.00,674.70 C22.78,673.23 24.20,672.17 26.70,670.50 C29.20,668.83 32.23,667.07 35.00,664.70 C37.77,662.33 40.80,658.38 43.30,656.30 C45.80,654.22 47.50,653.87 50.00,652.20 C52.50,650.53 55.52,647.78 58.30,646.30 C61.08,644.82 63.92,644.40 66.70,643.30 C69.48,642.20 72.23,640.87 75.00,639.70 C77.77,638.53 81.08,637.08 83.30,636.30 C85.52,635.52 85.80,635.22 88.30,635.00 C90.80,634.78 95.23,634.22 98.30,635.00 C101.37,635.78 103.63,637.25 106.70,639.70 C109.77,642.15 113.37,646.37 116.70,649.70 C120.03,653.03 123.37,656.65 126.70,659.70 C130.03,662.75 133.37,664.82 136.70,668.00 C140.03,671.18 143.37,675.47 146.70,678.80 C150.03,682.13 153.37,685.42 156.70,688.00 C160.03,690.58 163.37,692.08 166.70,694.30 C170.03,696.52 173.93,699.30 176.70,701.30 C179.47,703.30 180.75,704.43 183.30,706.30 C185.85,708.17 188.88,709.67 192.00,712.50 C195.12,715.33 198.67,719.68 202.00,723.30 C205.33,726.92 208.67,730.03 212.00,734.20 C215.33,738.37 218.67,743.58 222.00,748.30 C225.33,753.02 228.67,758.47 232.00,762.50 C235.33,766.53 238.67,769.80 242.00,772.50 C245.33,775.20 249.22,777.45 252.00,778.70 C254.78,779.95 255.37,779.78 258.70,780.00 C262.03,780.22 268.12,780.28 272.00,780.00 C275.88,779.72 278.67,779.27 282.00,778.30 C285.33,777.33 288.67,775.58 292.00,774.20 C295.33,772.82 298.12,771.25 302.00,770.00 C305.88,768.75 311.68,767.75 315.30,766.70 C318.92,765.65 320.37,764.32 323.70,763.70 C327.03,763.08 331.70,762.92 335.30,763.00 C338.90,763.08 341.97,763.45 345.30,764.20 C348.63,764.95 352.23,766.40 355.30,767.50 C358.37,768.60 360.92,769.13 363.70,770.80 C366.48,772.47 368.62,775.13 372.00,777.50 C375.38,779.87 380.33,782.50 384.00,785.00 C387.67,787.50 390.67,790.05 394.00,792.50 C397.33,794.95 401.50,798.17 404.00,799.70 C406.50,801.23 405.67,801.43 409.00,801.70 C412.33,801.97 419.83,802.28 424.00,801.30 C428.17,800.32 430.67,798.10 434.00,795.80 C437.33,793.50 440.67,791.38 444.00,787.50 C447.33,783.62 450.67,776.67 454.00,772.50 C457.33,768.33 460.67,765.70 464.00,762.50 C467.33,759.30 470.67,756.00 474.00,753.30 C477.33,750.60 480.95,747.82 484.00,746.30 C487.05,744.78 489.52,744.55 492.30,744.20 C495.08,743.85 497.63,743.78 500.70,744.20 C503.77,744.62 507.10,745.95 510.70,746.70 C514.30,747.45 518.42,748.37 522.30,748.70 C526.18,749.03 530.38,748.98 534.00,748.70 C537.62,748.42 540.67,747.83 544.00,747.00 C547.33,746.17 550.67,745.45 554.00,743.70 C557.33,741.95 560.67,739.28 564.00,736.50 C567.33,733.72 570.67,731.00 574.00,727.00 C577.33,723.00 580.12,717.13 584.00,712.50 C587.88,707.87 592.30,703.65 597.30,699.20 C602.30,694.75 609.00,690.12 614.00,685.80 C619.00,681.48 623.13,677.18 627.30,673.30 C631.47,669.42 635.10,666.10 639.00,662.50 C642.90,658.90 646.82,655.45 650.70,651.70 C654.58,647.95 658.42,643.75 662.30,640.00 C666.18,636.25 670.67,631.98 674.00,629.20 C677.33,626.42 679.52,625.12 682.30,623.30 C685.08,621.48 687.63,619.55 690.70,618.30 C693.77,617.05 697.37,616.63 700.70,615.80 C704.03,614.97 707.93,613.98 710.70,613.30 C713.47,612.62 713.08,611.97 717.30,611.70 C721.52,611.43 731.43,611.57 736.00,611.70 C740.57,611.83 740.48,612.17 744.70,612.50 C748.92,612.83 757.13,613.23 761.30,613.70 C765.47,614.17 766.92,614.12 769.70,615.30 C772.48,616.48 775.23,618.90 778.00,620.80 C780.77,622.70 783.52,624.47 786.30,626.70 C789.08,628.93 791.92,631.43 794.70,634.20 C797.48,636.97 800.23,639.97 803.00,643.30 C805.77,646.63 808.52,650.58 811.30,654.20 C814.08,657.82 816.92,661.25 819.70,665.00 C822.48,668.75 825.23,672.53 828.00,676.70 C830.77,680.87 833.52,685.83 836.30,690.00 C839.08,694.17 841.92,697.82 844.70,701.70 C847.48,705.58 850.23,709.70 853.00,713.30 C855.77,716.90 858.52,719.82 861.30,723.30 C864.08,726.78 867.70,731.70 869.70,734.20 C871.70,736.70 871.30,735.95 873.30,738.30 C875.30,740.65 878.92,745.65 881.70,748.30 C884.48,750.95 887.23,752.38 890.00,754.20 C892.77,756.02 896.92,758.37 898.30,759.20" fill="none" stroke="#e00000" stroke-width="2" stroke-linejoin="round"/></g><text x="5" y="600.5" textLength="233.3" lengthAdjust="spacingAndGlyphs">MACD(12,26,9) -0.002177 -0.001849</text><rect x="1075" y="584" width="4" height="1" fill="#000" shape-rendering="crispEdges"/><rect x="1075" y="842" width="4" height="1" fill="#000" shape-rendering="crispEdges"/><text x="1080" y="597" textLength="59.5" lengthAdjust="spacingAndGlyphs">0.005147</text><text x="1079.5" y="840" textLength="64.8" lengthAdjust="spacingAndGlyphs">-0.005199</text><g shape-rendering="crispEdges" fill="#000"><rect x="2" y="844" width="1" height="4"/><rect x="130" y="844" width="1" height="4"/><rect x="258" y="844" width="1" height="4"/><rect x="386" y="844" width="1" height="4"/><rect x="514" y="844" width="1" height="4"/><rect x="642" y="844" width="1" height="4"/><rect x="770" y="844" width="1" height="4"/><rect x="898" y="844" width="1" height="4"/></g><text x="2.3" y="861">11 Sep 2025</text><text x="130.3" y="861">30 Sep 2025</text><text x="258.3" y="861">19 Oct 2025</text><text x="386.3" y="861">6 Nov 2025</text><text x="514.3" y="861">25 Nov 2025</text><text x="642.3" y="861">14 Dec 2025</text><text x="770.3" y="861">1 Jan 2026</text><text x="898.3" y="861">20 Jan 2026</text></svg></body></html>
